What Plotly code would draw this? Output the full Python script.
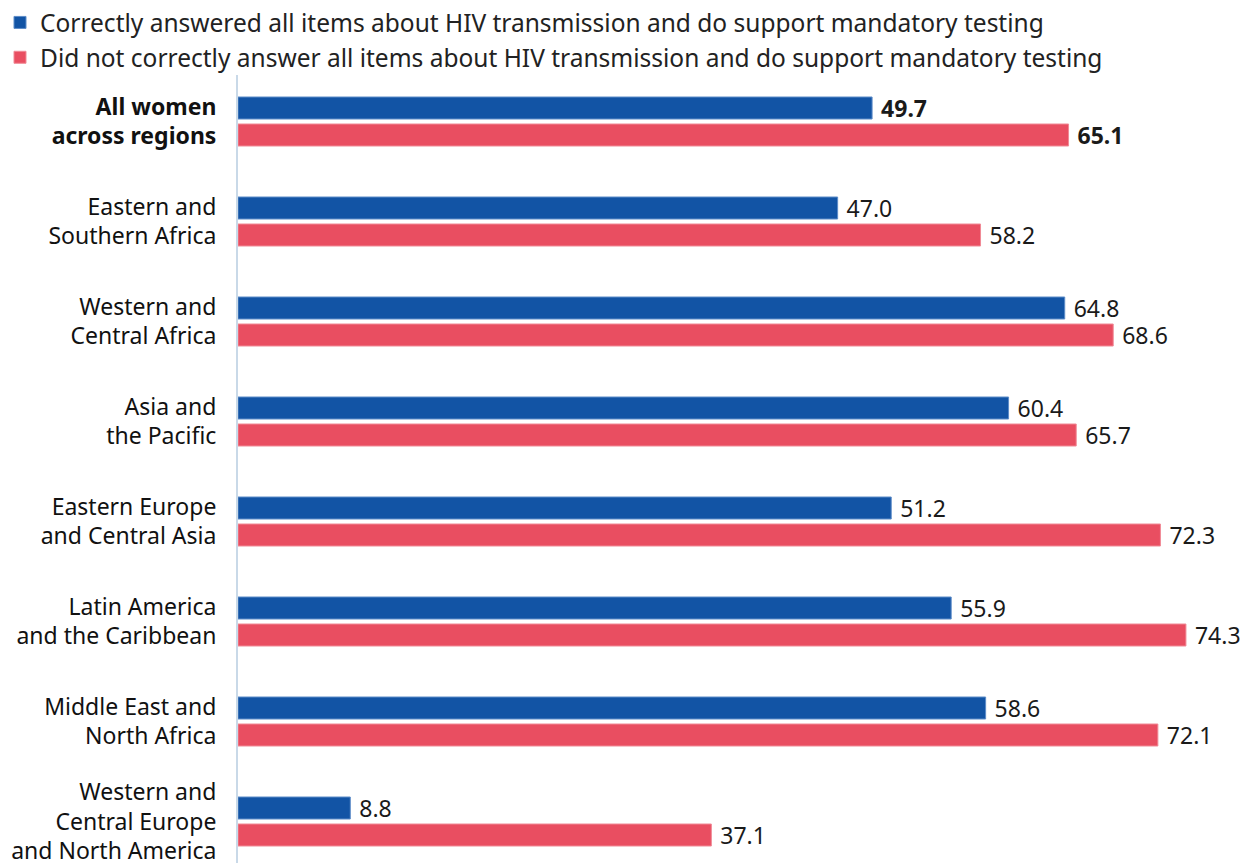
import plotly.graph_objects as go

categories = [
    "<b>All women<br>across regions</b>",
    "Eastern and<br>Southern Africa",
    "Western and<br>Central Africa",
    "Asia and<br>the Pacific",
    "Eastern Europe<br>and Central Asia",
    "Latin America<br>and the Caribbean",
    "Middle East and<br>North Africa",
    "Western and<br>Central Europe<br>and North America",
]
correct_values = [49.7, 47.0, 64.8, 60.4, 51.2, 55.9, 58.6, 8.8]
incorrect_values = [65.1, 58.2, 68.6, 65.7, 72.3, 74.3, 72.1, 37.1]
series_names = [
    "Correctly answered all items about HIV transmission and do support mandatory testing",
    "Did not correctly answer all items about HIV transmission and do support mandatory testing",
]

def labels(vals):
    out = []
    for i, v in enumerate(vals):
        s = f"{v:.1f}"
        out.append(f" <b>{s}</b>" if i == 0 else f" {s}")
    return out

BLUE = "#1254A5"
RED = "#E94E61"
FONT = "Noto Sans"
LABEL_SIZE = 23

fig = go.Figure()
fig.add_trace(go.Bar(
    y=categories, x=correct_values, orientation="h", name=series_names[0],
    marker=dict(color=BLUE, line=dict(color="#5d8cc8", width=1)),
    text=labels(correct_values), textposition="outside", cliponaxis=False,
    constraintext="none",
    textfont=dict(size=LABEL_SIZE, color="#1a1a1a", family=FONT),
))
fig.add_trace(go.Bar(
    y=categories, x=incorrect_values, orientation="h", name=series_names[1],
    marker=dict(color=RED, line=dict(color="#f08a96", width=1)),
    text=labels(incorrect_values), textposition="outside", cliponaxis=False,
    constraintext="none",
    textfont=dict(size=LABEL_SIZE, color="#1a1a1a", family=FONT),
))

fig.update_layout(
    width=1251, height=863,
    margin=dict(l=238, r=0, t=75, b=0, autoexpand=False),
    barmode="group", bargap=0.46, bargroupgap=0.185,
    plot_bgcolor="white", paper_bgcolor="white",
    font=dict(family=FONT, size=LABEL_SIZE, color="#1a1a1a"),
    showlegend=True,
    legend=dict(
        xref="container", yref="container", x=0.0, y=1.003,
        xanchor="left", yanchor="top",
        font=dict(size=24.5, color="#222222", family=FONT),
        traceorder="normal", bgcolor="rgba(0,0,0,0)",
    ),
    xaxis=dict(range=[0, 79.4], visible=False, showgrid=False, zeroline=False),
    yaxis=dict(
        range=[7.415, -0.465], showgrid=False, zeroline=False,
        showline=True, linecolor="#c9d9e8", linewidth=2,
        ticks="", ticklabelstandoff=15,
        tickfont=dict(size=LABEL_SIZE, color="#111111", family=FONT),
    ),
    uniformtext=dict(mode=False),
)

fig.write_html(
    "out.html",
    config={"displayModeBar": False},
    post_script="document.body.style.margin='0';document.body.style.overflow='hidden';",
)
